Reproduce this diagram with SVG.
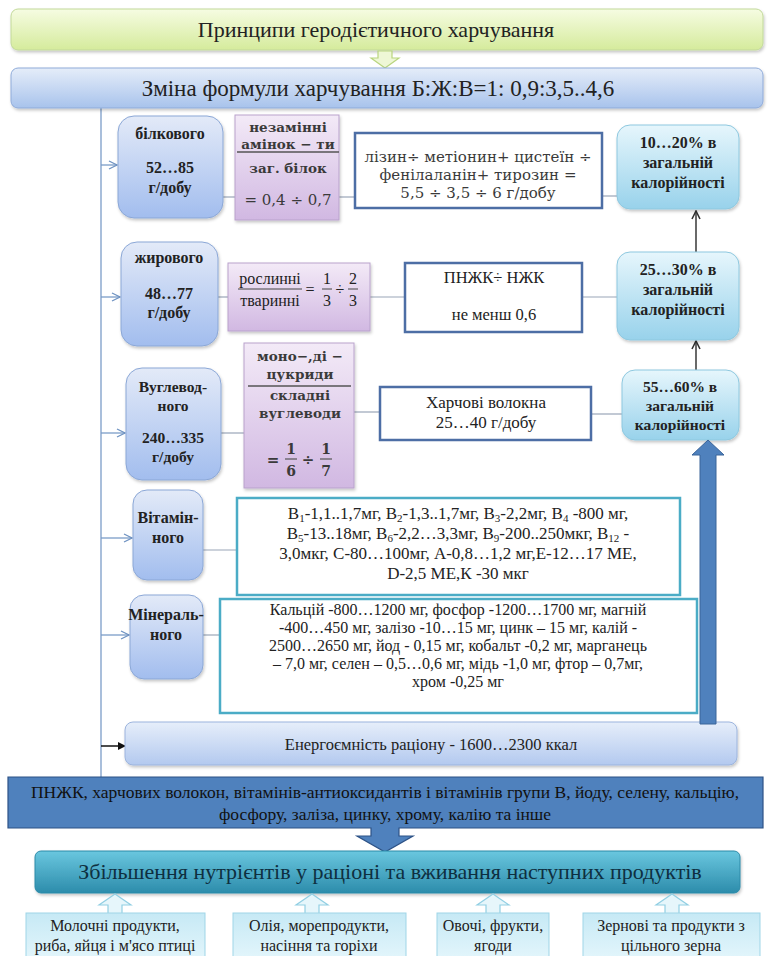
<svg xmlns="http://www.w3.org/2000/svg" width="771" height="956" viewBox="0 0 771 956">
<style>
.t{font-family:"Liberation Serif","Times New Roman",serif;fill:#222;text-anchor:middle}
.b{font-weight:bold}
.m{font-family:"DejaVu Serif",serif;fill:#3a3a3a;text-anchor:middle}
.ln{stroke:#9aa6b8;stroke-width:1.2;fill:none}
.ar{stroke:#7b9cc8;stroke-width:1.3;fill:none}
.node{fill:url(#gNode);stroke:#8ba7d6;stroke-width:1}
.purp{fill:url(#gPurp);stroke:#b9a2cc;stroke-width:1}
.cyan{fill:url(#gCyan);stroke:#8ec8df;stroke-width:1}
.tb{fill:#fff;stroke:#4d6ea5;stroke-width:2.5}
.tt{fill:#fff;stroke:#4bacc6;stroke-width:2.5}
.bot{fill:url(#gBot);stroke:#9fd5e7;stroke-width:1}
.hol{fill:#e6f6fb;stroke:#92cfe3;stroke-width:1.2}
.s{font-size:11px}
</style>
<defs>
<linearGradient id="gGreen" x1="0" y1="0" x2="0" y2="1"><stop offset="0" stop-color="#f6fce2"/><stop offset="1" stop-color="#d5eb9c"/></linearGradient>
<linearGradient id="gBlue" x1="0" y1="0" x2="0" y2="1"><stop offset="0" stop-color="#e5edf9"/><stop offset="1" stop-color="#a8c3ec"/></linearGradient>
<linearGradient id="gNode" x1="0" y1="0" x2="0" y2="1"><stop offset="0" stop-color="#e3eaf8"/><stop offset="1" stop-color="#a2bdee"/></linearGradient>
<linearGradient id="gPurp" x1="0" y1="0" x2="0" y2="1"><stop offset="0" stop-color="#f3eaf7"/><stop offset="1" stop-color="#d1b8e2"/></linearGradient>
<linearGradient id="gCyan" x1="0" y1="0" x2="0" y2="1"><stop offset="0" stop-color="#e6f6fc"/><stop offset="1" stop-color="#98d2eb"/></linearGradient>
<linearGradient id="gEn" x1="0" y1="0" x2="0" y2="1"><stop offset="0" stop-color="#e6eefa"/><stop offset="1" stop-color="#b3c9ef"/></linearGradient>
<linearGradient id="gTeal" x1="0" y1="0" x2="0" y2="1"><stop offset="0" stop-color="#6ac7df"/><stop offset="1" stop-color="#2c8cab"/></linearGradient>
<linearGradient id="gBot" x1="0" y1="0" x2="0" y2="1"><stop offset="0" stop-color="#c6e9f5"/><stop offset="1" stop-color="#e2f5fb"/></linearGradient>
<filter id="sh" x="-10%" y="-10%" width="125%" height="130%"><feDropShadow dx="1" dy="2" stdDeviation="1.5" flood-color="#000" flood-opacity="0.22"/></filter>
<marker id="ch" markerWidth="10" markerHeight="10" refX="9" refY="5" orient="auto" markerUnits="userSpaceOnUse"><path d="M1,1 L9,5 L1,9" fill="none" stroke="#6f93c2" stroke-width="1.3"/></marker>
<marker id="chk" markerWidth="10" markerHeight="10" refX="9" refY="5" orient="auto" markerUnits="userSpaceOnUse"><path d="M1,1 L9,5 L1,9" fill="none" stroke="#333" stroke-width="1.6"/></marker>
<marker id="tri" markerWidth="8" markerHeight="8" refX="7" refY="4" orient="auto" markerUnits="userSpaceOnUse"><path d="M0,0 L8,4 L0,8 Z" fill="#111"/></marker>
</defs>

<g id="connectors">
<line class="ar" x1="101" y1="108" x2="101" y2="777"/>
<line class="ar" x1="101" y1="165" x2="117" y2="165" marker-end="url(#ch)"/>
<line class="ar" x1="101" y1="297" x2="120" y2="297" marker-end="url(#ch)"/>
<line class="ar" x1="101" y1="433" x2="125" y2="433" marker-end="url(#ch)"/>
<line class="ar" x1="101" y1="538" x2="132" y2="538" marker-end="url(#ch)"/>
<line class="ar" x1="101" y1="635" x2="129" y2="635" marker-end="url(#ch)"/>
<line x1="101" y1="746" x2="125" y2="746" stroke="#111" stroke-width="1.5" marker-end="url(#tri)"/>
<line class="ln" x1="223" y1="197" x2="235" y2="197"/>
<line class="ln" x1="339" y1="197" x2="355" y2="197"/>
<line class="ln" x1="602" y1="196" x2="617" y2="196"/>
<line class="ln" x1="218" y1="297" x2="228" y2="297"/>
<line class="ln" x1="370" y1="297" x2="405" y2="297"/>
<line class="ln" x1="582" y1="297" x2="617" y2="297"/>
<line class="ln" x1="221" y1="433" x2="244" y2="433"/>
<line class="ln" x1="354" y1="412" x2="380" y2="412"/>
<line class="ln" x1="591" y1="414" x2="622" y2="414"/>
<line class="ln" x1="203" y1="550" x2="237" y2="550"/>
<line class="ln" x1="203" y1="635" x2="220" y2="635"/>
<line x1="696" y1="252" x2="696" y2="211" stroke="#444" stroke-width="1.6" marker-end="url(#chk)"/>
<line x1="696" y1="370" x2="696" y2="341" stroke="#444" stroke-width="1.6" marker-end="url(#chk)"/>
</g>

<g id="n-title">
<rect x="11" y="9" width="752" height="41" rx="7" fill="url(#gGreen)" stroke="#c2d99a" stroke-width="1" filter="url(#sh)"/>
<text class="t" x="376" y="37" font-size="22">Принципи геродієтичного харчування</text>
</g>
<g id="a-green"><path class="hol" d="M378,51 H392 V58 H399 L385,68 L371,58 H378 Z" style="fill:#eef7d6;stroke:#b9d57f"/></g>
<g id="n-formula">
<rect x="11" y="68" width="752" height="40" rx="7" fill="url(#gBlue)" stroke="#8fabd9" stroke-width="1" filter="url(#sh)"/>
<text class="t" x="378" y="96" font-size="23">Зміна формули харчування Б:Ж:В=1: 0,9:3,5..4,6</text>
</g>

<g id="n-bilk">
<rect class="node" x="118" y="116" width="105" height="102" rx="16" filter="url(#sh)"/>
<text class="t b" x="170" y="139" font-size="16">білкового</text>
<text class="t b" x="170" y="173" font-size="16">52…85</text>
<text class="t b" x="170" y="193" font-size="16">г/добу</text>
</g>
<g id="f-bilk">
<rect class="purp" x="235" y="115" width="104" height="105" filter="url(#sh)"/>
<text class="m b" x="288" y="132" font-size="13.5">незамінні</text>
<text class="m b" x="288" y="149" font-size="13.5">амінок − ти</text>
<line x1="237" y1="152" x2="339" y2="152" stroke="#555" stroke-width="1.3"/>
<text class="m b" x="288" y="173" font-size="13.5">заг. білок</text>
<text class="m" x="288" y="205" font-size="15">= 0,4 ÷ 0,7</text>
</g>
<g id="t-bilk">
<rect class="tb" x="355" y="133" width="247" height="75"/>
<text class="m" x="478" y="162" font-size="15">лізин÷ метіонин+ цистеїн ÷</text>
<text class="m" x="478" y="180" font-size="15">фенілаланін+ тирозин =</text>
<text class="m" x="478" y="198" font-size="15">5,5 ÷ 3,5 ÷ 6 г/добу</text>
</g>
<g id="r-bilk">
<rect class="cyan" x="617" y="125" width="122" height="84" rx="13" filter="url(#sh)"/>
<text class="t b" x="678" y="148" font-size="16">10…20% в</text>
<text class="t b" x="678" y="168" font-size="16">загальній</text>
<text class="t b" x="678" y="188" font-size="16">калорійності</text>
</g>

<g id="n-zhyr">
<rect class="node" x="121" y="242" width="97" height="104" rx="16" filter="url(#sh)"/>
<text class="t b" x="169" y="263" font-size="16">жирового</text>
<text class="t b" x="169" y="299" font-size="16">48…77</text>
<text class="t b" x="169" y="318" font-size="16">г/добу</text>
</g>
<g id="f-zhyr">
<rect class="purp" x="228" y="263" width="142" height="68" filter="url(#sh)"/>
<text class="t" x="270" y="284" font-size="16">рослинні</text>
<line x1="238" y1="289" x2="302" y2="289" stroke="#444" stroke-width="1"/>
<text class="t" x="270" y="306" font-size="16">тваринні</text>
<text class="t" x="310" y="295" font-size="16">=</text>
<text class="t" x="327" y="284" font-size="16">1</text>
<line x1="322" y1="289" x2="332" y2="289" stroke="#444" stroke-width="1"/>
<text class="t" x="327" y="306" font-size="16">3</text>
<text class="t" x="340" y="295" font-size="16">÷</text>
<text class="t" x="353" y="284" font-size="16">2</text>
<line x1="348" y1="289" x2="358" y2="289" stroke="#444" stroke-width="1"/>
<text class="t" x="353" y="306" font-size="16">3</text>
</g>
<g id="t-zhyr">
<rect class="tb" x="405" y="263" width="177" height="69"/>
<text class="t" x="494" y="283" font-size="16.5">ПНЖК÷ НЖК</text>
<text class="t" x="494" y="320" font-size="16.5">не менш 0,6</text>
</g>
<g id="r-zhyr">
<rect class="cyan" x="617" y="252" width="122" height="88" rx="13" filter="url(#sh)"/>
<text class="t b" x="678" y="275" font-size="16">25…30% в</text>
<text class="t b" x="678" y="295" font-size="16">загальній</text>
<text class="t b" x="678" y="315" font-size="16">калорійності</text>
</g>

<g id="n-vugl">
<rect class="node" x="126" y="368" width="95" height="112" rx="16" filter="url(#sh)"/>
<text class="t b" x="173" y="392" font-size="15.5">Вуглевод-</text>
<text class="t b" x="173" y="411" font-size="15.5">ного</text>
<text class="t b" x="173" y="443" font-size="15.5">240…335</text>
<text class="t b" x="173" y="462" font-size="15.5">г/добу</text>
</g>
<g id="f-vugl">
<rect class="purp" x="244" y="343" width="110" height="145" filter="url(#sh)"/>
<text class="m b" x="300" y="361" font-size="13.5">моно−,ді −</text>
<text class="m b" x="300" y="379" font-size="13.5">цукриди</text>
<line x1="248" y1="386" x2="351" y2="386" stroke="#555" stroke-width="1.3"/>
<text class="m b" x="300" y="400" font-size="13.5">складні</text>
<text class="m b" x="300" y="418" font-size="13.5">вуглеводи</text>
<text class="m b" x="273" y="465" font-size="15">=</text>
<text class="m b" x="291" y="454" font-size="14">1</text>
<line x1="285" y1="459" x2="297" y2="459" stroke="#555" stroke-width="1.2"/>
<text class="m b" x="291" y="476" font-size="14">6</text>
<text class="m b" x="308" y="465" font-size="15">÷</text>
<text class="m b" x="326" y="454" font-size="14">1</text>
<line x1="320" y1="459" x2="332" y2="459" stroke="#555" stroke-width="1.2"/>
<text class="m b" x="326" y="476" font-size="14">7</text>
</g>
<g id="t-vugl">
<rect class="tb" x="380" y="387" width="211" height="53"/>
<text class="t" x="486" y="408" font-size="17">Харчові волокна</text>
<text class="t" x="486" y="428" font-size="17">25…40 г/добу</text>
</g>
<g id="r-vugl">
<rect class="cyan" x="622" y="370" width="117" height="70" rx="13" filter="url(#sh)"/>
<text class="t b" x="680" y="392" font-size="15.5">55…60% в</text>
<text class="t b" x="680" y="411" font-size="15.5">загальній</text>
<text class="t b" x="680" y="430" font-size="15.5">калорійності</text>
</g>

<g id="n-vit">
<rect class="node" x="133" y="490" width="70" height="90" rx="14" filter="url(#sh)"/>
<text class="t b" x="168" y="523" font-size="16">Вітамін-</text>
<text class="t b" x="168" y="543" font-size="16">ного</text>
</g>
<g id="t-vit">
<rect class="tt" x="237" y="498" width="443" height="97"/>
<text class="t" x="458" y="519" font-size="17">В<tspan class="s" dy="3">1</tspan><tspan dy="-3">-1,1..1,7мг, В</tspan><tspan class="s" dy="3">2</tspan><tspan dy="-3">-1,3..1,7мг, В</tspan><tspan class="s" dy="3">3</tspan><tspan dy="-3">-2,2мг, В</tspan><tspan class="s" dy="3">4</tspan><tspan dy="-3"> -800 мг,</tspan></text>
<text class="t" x="458" y="539" font-size="17">В<tspan class="s" dy="3">5</tspan><tspan dy="-3">-13..18мг, В</tspan><tspan class="s" dy="3">6</tspan><tspan dy="-3">-2,2…3,3мг, В</tspan><tspan class="s" dy="3">9</tspan><tspan dy="-3">-200..250мкг, В</tspan><tspan class="s" dy="3">12</tspan><tspan dy="-3"> -</tspan></text>
<text class="t" x="458" y="559" font-size="17">3,0мкг, С-80…100мг, А-0,8…1,2 мг,Е-12…17 МЕ,</text>
<text class="t" x="458" y="579" font-size="17">D-2,5 МЕ,К -30 мкг</text>
</g>

<g id="n-min">
<rect class="node" x="130" y="595" width="73" height="84" rx="14" filter="url(#sh)"/>
<text class="t b" x="166" y="620" font-size="16">Мінераль-</text>
<text class="t b" x="166" y="640" font-size="16">ного</text>
</g>
<g id="t-min">
<rect class="tt" x="220" y="599" width="477" height="114"/>
<text class="t" x="458" y="615" font-size="16">Кальцій -800…1200 мг, фосфор -1200…1700 мг, магній</text>
<text class="t" x="458" y="633" font-size="16">-400…450 мг, залізо -10…15 мг, цинк – 15 мг, калій -</text>
<text class="t" x="458" y="651" font-size="16">2500…2650 мг,  йод - 0,15 мг, кобальт -0,2 мг, марганець</text>
<text class="t" x="458" y="669" font-size="16">– 7,0 мг, селен – 0,5…0,6 мг, мідь -1,0 мг, фтор – 0,7мг,</text>
<text class="t" x="458" y="687" font-size="16">хром -0,25 мг</text>
</g>

<g id="n-energy">
<rect x="125" y="722" width="612" height="43" rx="8" fill="url(#gEn)" stroke="#9cb4dd" stroke-width="1" filter="url(#sh)"/>
<text class="t" x="431" y="750" font-size="16.5">Енергоємність раціону - 1600…2300 ккал</text>
</g>

<g id="a-big">
<path d="M700,724 V455 H692 L708,440 L724,455 H716 V724 Z" fill="#4f81bd" stroke="#3a6499" stroke-width="1"/>
</g>

<g id="n-banner">
<path d="M8,777 H763 V828 H399 V836 H413 L385,852 L357,836 H371 V828 H8 Z" fill="#4f81bd" stroke="#2d5286" stroke-width="1.2"/>
<text class="t" x="385" y="798" font-size="17.5" style="fill:#111">ПНЖК, харчових волокон, вітамінів-антиоксидантів і вітамінів групи В, йоду, селену, кальцію,</text>
<text class="t" x="385" y="820" font-size="17.5" style="fill:#111">фосфору, заліза, цинку, хрому, калію та інше</text>
</g>

<g id="n-increase">
<rect x="35" y="851" width="705" height="42" rx="6" fill="url(#gTeal)" stroke="#2d8aa8" stroke-width="1" filter="url(#sh)"/>
<text class="t" x="390" y="879" font-size="22" style="fill:#0e2f40">Збільшення нутрієнтів у раціоні та вживання наступних продуктів</text>
</g>

<g id="a-bottom">
<path class="hol" d="M108,914 V905 H99 L115,894 L131,905 H122 V914 Z"/>
<path class="hol" d="M305,914 V905 H296 L312,894 L328,905 H319 V914 Z"/>
<path class="hol" d="M486,914 V905 H477 L493,894 L509,905 H500 V914 Z"/>
<path class="hol" d="M665,914 V905 H656 L672,894 L688,905 H679 V914 Z"/>
</g>

<g id="b-milk">
<rect class="bot" x="26" y="913" width="179" height="45"/>
<text class="t" x="115" y="931" font-size="16">Молочні продукти,</text>
<text class="t" x="115" y="951" font-size="16">риба, яйця і м'ясо птиці</text>
</g>
<g id="b-oil">
<rect class="bot" x="233" y="913" width="173" height="45"/>
<text class="t" x="319" y="931" font-size="16">Олія, морепродукти,</text>
<text class="t" x="319" y="951" font-size="16">насіння та горіхи</text>
</g>
<g id="b-veg">
<rect class="bot" x="437" y="913" width="112" height="45"/>
<text class="t" x="493" y="931" font-size="16">Овочі, фрукти,</text>
<text class="t" x="493" y="951" font-size="16">ягоди</text>
</g>
<g id="b-grain">
<rect class="bot" x="583" y="913" width="177" height="45"/>
<text class="t" x="671" y="931" font-size="16">Зернові та продукти з</text>
<text class="t" x="671" y="951" font-size="16">цільного зерна</text>
</g>
</svg>
